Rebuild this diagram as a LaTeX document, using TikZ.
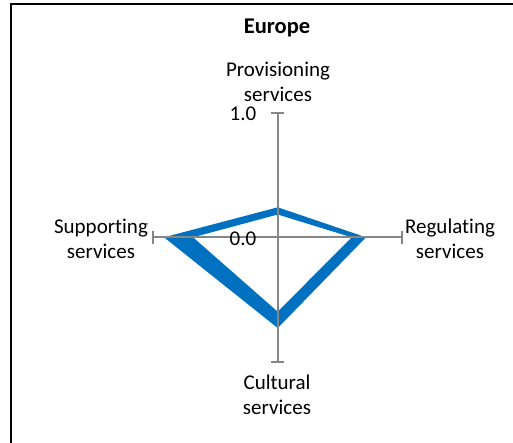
\documentclass[tikz,border=0pt]{standalone}
\usepackage{fontspec}
\setmainfont{Carlito}[Ligatures=NoCommon]
\definecolor{bandblue}{RGB}{0,112,192}
\definecolor{axisgray}{RGB}{134,134,134}
\begin{document}
\begin{tikzpicture}[x=1pt,y=-1pt,
  lbl/.style={font=\fontsize{21}{25}\selectfont, align=center, inner sep=0pt},
  titlelbl/.style={font=\fontsize{22.5}{26}\selectfont\bfseries, inner sep=0pt},
  axisline/.style={draw=axisgray, line width=2pt},
  framelines/.style={draw=black, line width=2pt},
]
\useasboundingbox (0,0) rectangle (513,443);
% frame (partially visible)
\coordinate (fbl) at (11,443);
\coordinate (ftl) at (11,4);
\coordinate (ftr) at (513,4);
\draw[framelines] (fbl) -- (ftl) -- (ftr);
% axis end points
\coordinate (C) at (277.7,237.3);
\coordinate (T) at (277.7,112.9);
\coordinate (B) at (277.7,361.7);
\coordinate (L) at (153.3,237.3);
\coordinate (R) at (402.3,237.3);
% band polygons
\coordinate (o1) at (277.7,207.3);
\coordinate (o2) at (366,237.3);
\coordinate (o3) at (277.7,328);
\coordinate (o4) at (164,237.3);
\coordinate (i1) at (277.7,214.5);
\coordinate (i2) at (351.7,237.3);
\coordinate (i3) at (277.7,311.7);
\coordinate (i4) at (193,237.3);
\fill[bandblue, even odd rule] (o1) -- (o2) -- (o3) -- (o4) -- cycle
  (i1) -- (i2) -- (i3) -- (i4) -- cycle;
% axes
\draw[axisline] (T) -- (B);
\draw[axisline] (L) -- (R);
\draw[axisline] ([xshift=-6.5pt]T) -- ([xshift=6.5pt]T);
\draw[axisline] ([xshift=-6.5pt]B) -- ([xshift=6.5pt]B);
\draw[axisline] ([yshift=-6.5pt]L) -- ([yshift=6.5pt]L);
\draw[axisline] ([yshift=-6.5pt]R) -- ([yshift=6.5pt]R);
% labels
\node[titlelbl] (title) at (277,28) {Europe};
\node[lbl] (prov) at (278,82) {Provisioning\\services};
\node[lbl] (supp) at (101,238.5) {Supporting\\services};
\node[lbl] (reg) at (450,238.5) {Regulating\\services};
\node[lbl] (cult) at (277,394.5) {Cultural\\services};
\node[lbl] (one) at (243,114) {1.0};
\node[lbl] (zero) at (243,239) {0.0};
\end{tikzpicture}
\end{document}
